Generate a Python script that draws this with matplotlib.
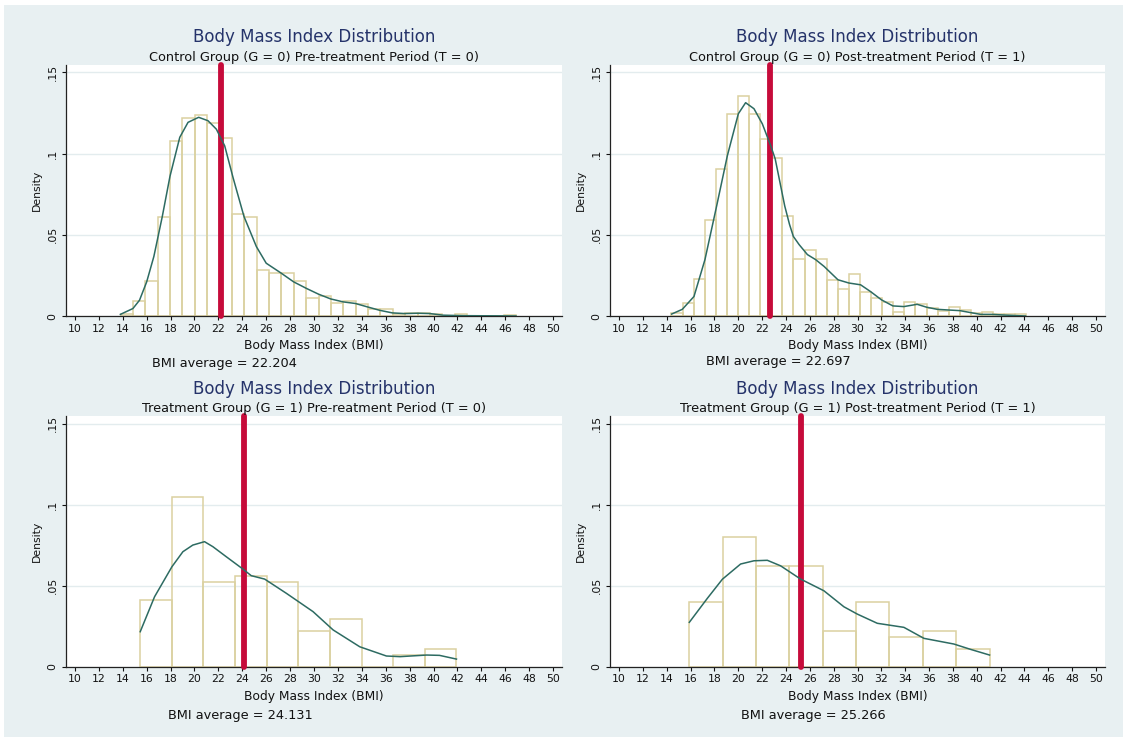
import numpy as np
import matplotlib
matplotlib.use("Agg")
import matplotlib.pyplot as plt
from matplotlib.patches import Rectangle


# ---- data ----

titles = ["Body Mass Index Distribution"] * 4
subtitles = [
    "Control Group (G = 0) Pre-treatment Period (T = 0)",
    "Control Group (G = 0) Post-treatment Period (T = 1)",
    "Treatment Group (G = 1) Pre-reatment Period (T = 0)",
    "Treatment Group (G = 1) Post-treatment Period (T = 1)",
]
bmi_means = [22.204, 22.697, 24.131, 25.266]

# histogram bins (start, width, density per bin)
p1_bin_start, p1_bin_width = 13.82, 1.035
p1_heights = [0.0015, 0.0093, 0.0215, 0.061, 0.1078, 0.1217, 0.1239, 0.1188,
              0.1093, 0.063, 0.061, 0.0283, 0.0263, 0.0263, 0.0215, 0.0108,
              0.0122, 0.0077, 0.0093, 0.0072, 0.0046, 0.0042, 0.0015, 0.0021,
              0.0021, 0.001, 0.0, 0.001, 0.0, 0.0, 0.0, 0.0005]

p2_bin_start, p2_bin_width = 14.40, 0.93
p2_heights = [0.0017, 0.0079, 0.0227, 0.0593, 0.0905, 0.1245, 0.1353, 0.1245,
              0.109, 0.0975, 0.0615, 0.0351, 0.0409, 0.0351, 0.0223, 0.0167,
              0.026, 0.0147, 0.011, 0.0089, 0.0023, 0.0089, 0.0072, 0.0048,
              0.0031, 0.0058, 0.0037, 0.0017, 0.0023, 0.001, 0.001, 0.001]

p3_bin_start, p3_bin_width = 15.46, 2.646
p3_heights = [0.0412, 0.1046, 0.0521, 0.056, 0.0521, 0.0222, 0.0296, 0.0,
              0.0074, 0.0109]

p4_bin_start, p4_bin_width = 15.9, 2.797
p4_heights = [0.0399, 0.08, 0.062, 0.062, 0.022, 0.0399, 0.0181, 0.0218, 0.0109]

# kernel density curves (x, density)
p1_kde_x = [13.8, 14.85, 15.4, 16.0, 16.6, 17.3, 17.95, 18.77, 19.46, 20.35,
            21.13, 21.83, 22.53, 23.23, 24.14, 25.18, 26.0, 27.27, 28.3, 29.36,
            30.39, 31.4, 32.43, 33.47, 34.47, 35.5, 36.56, 37.6, 38.7, 39.7,
            40.8, 42.5, 45.3, 46.9]
p1_kde_y = [0.001, 0.0046, 0.0097, 0.021, 0.0366, 0.061, 0.086, 0.110, 0.1192,
            0.1223, 0.1202, 0.115, 0.1047, 0.0851, 0.0613, 0.0427, 0.0325,
            0.0263, 0.021, 0.017, 0.0134, 0.0105, 0.0087, 0.0077, 0.0056,
            0.0035, 0.0019, 0.0015, 0.0017, 0.0015, 0.0005, 0.0002, 0.0001, 0.0]

p2_kde_x = [14.42, 15.31, 16.29, 17.21, 18.19, 19.09, 20.01, 20.62, 21.32,
            22.02, 22.72, 23.1, 23.5, 23.9, 24.3, 24.62, 25.1, 25.8, 26.49,
            27.2, 28.36, 29.28, 30.26, 31.1, 32.02, 32.97, 33.89, 35.0, 35.8,
            36.69, 37.61, 38.58, 39.48, 40.32, 41.3, 42.27, 44.09]
p2_kde_y = [0.0012, 0.0041, 0.012, 0.0347, 0.0677, 0.0987, 0.1245, 0.1313,
            0.1276, 0.1183, 0.1049, 0.0967, 0.0822, 0.0677, 0.0564, 0.049,
            0.044, 0.0378, 0.0347, 0.0305, 0.0223, 0.0203, 0.0192, 0.015,
            0.0099, 0.0062, 0.0058, 0.0072, 0.0054, 0.0041, 0.0037, 0.0033,
            0.0021, 0.001, 0.001, 0.0006, 0.0]

p3_kde_x = [15.46, 16.66, 18.11, 19.03, 19.86, 20.84, 21.54, 22.66, 24.05,
            24.75, 25.87, 27.69, 29.92, 31.6, 33.83, 36.06, 37.2, 39.43, 40.5,
            41.92]
p3_kde_y = [0.0216, 0.0432, 0.0617, 0.071, 0.0751, 0.0772, 0.0741, 0.0679,
            0.0603, 0.0562, 0.0541, 0.0453, 0.034, 0.0227, 0.0123, 0.0066,
            0.0062, 0.0072, 0.007, 0.0047]

p4_kde_x = [15.9, 17.41, 18.67, 20.2, 21.32, 22.44, 23.55, 25.23, 26.07, 27.18,
            28.86, 29.98, 31.66, 33.89, 35.57, 38.08, 39.48, 41.07]
p4_kde_y = [0.0274, 0.0422, 0.054, 0.0634, 0.0654, 0.0657, 0.0623, 0.0541,
            0.051, 0.0469, 0.037, 0.0325, 0.0268, 0.0243, 0.0175, 0.014,
            0.0107, 0.0072]

x_ticks = list(range(10, 52, 2))
y_ticks = [0, 0.05, 0.1, 0.15]
y_tick_labels = ["0", ".05", ".1", ".15"]


# ---- styling ----
W, H = 1127, 741
BG = "#e8f0f2"
BAR_COLOR = "#dbd1a0"
KDE_COLOR = "#2d6b62"
MEAN_COLOR = "#c60b3a"
GRID_COLOR = "#e3ecee"
TITLE_COLOR = "#25336a"


def axesAt(fig, left, right, top, bottom):
    # pixel box -> figure fraction
    return fig.add_axes([left / W, 1 - bottom / H, (right - left) / W, (bottom - top) / H])


def figText(fig, x, y, s, **kw):
    fig.text(x / W, 1 - y / H, s, ha="center", va="center", **kw)


def drawPanel(ax, bin_start, bin_width, heights, kde_x, kde_y, mean, ytop):
    edges = bin_start + bin_width * np.arange(len(heights))
    ax.bar(edges, heights, width=bin_width, align="edge", fill=False,
           edgecolor=BAR_COLOR, linewidth=1.1, zorder=2)
    ax.axvline(mean, color=MEAN_COLOR, linewidth=4.2, solid_capstyle="round",
               clip_on=False, zorder=3)
    ax.plot(kde_x, kde_y, color=KDE_COLOR, linewidth=1.1, zorder=4)

    ax.set_xlim(9.25, 50.75)
    ax.set_ylim(0, ytop)
    ax.set_xticks(x_ticks)
    ax.set_yticks(y_ticks)
    ax.set_yticklabels(y_tick_labels)
    for lab in ax.get_yticklabels():
        lab.set_rotation(90)
        lab.set_va("center")

    ax.grid(axis="y", color=GRID_COLOR, linewidth=1.0, zorder=0)
    ax.grid(axis="x", visible=False)
    ax.set_axisbelow(True)
    for side in ["top", "right"]:
        ax.spines[side].set_visible(False)
    for side in ["left", "bottom"]:
        ax.spines[side].set_color("#222222")
        ax.spines[side].set_linewidth(0.9)
    ax.tick_params(axis="both", direction="out", length=3.2, width=0.8,
                   color="#111111", labelsize=7.8, labelcolor="#111111")
    ax.tick_params(axis="x", pad=2.3)
    ax.tick_params(axis="y", pad=3.0)


def main():
    fig = plt.figure(figsize=(W / 100, H / 100), dpi=100)
    fig.patch.set_facecolor("white")
    fig.add_artist(Rectangle((4 / W, 1 - 737 / H), 1119 / W, 732 / H,
                             transform=fig.transFigure, facecolor=BG,
                             edgecolor="none", zorder=0))

    # pixel boxes of the four plot regions
    boxes = [(66, 562, 65, 316), (610, 1105, 65, 316),
             (66, 562, 416, 666.7), (610, 1105, 416, 666.7)]
    bins = [(p1_bin_start, p1_bin_width, p1_heights),
            (p2_bin_start, p2_bin_width, p2_heights),
            (p3_bin_start, p3_bin_width, p3_heights),
            (p4_bin_start, p4_bin_width, p4_heights)]
    kdes = [(p1_kde_x, p1_kde_y), (p2_kde_x, p2_kde_y),
            (p3_kde_x, p3_kde_y), (p4_kde_x, p4_kde_y)]
    ytops = [0.1545, 0.1545, 0.1548, 0.1548]
    # centre of the "BMI average" note, in pixels
    note_pos = [(224, 363), (778, 362), (240, 715), (813, 715)]

    for i in range(4):
        left, right, top, bottom = boxes[i]
        ax = axesAt(fig, left, right, top, bottom)
        start, width, heights = bins[i]
        drawPanel(ax, start, width, heights, kdes[i][0], kdes[i][1],
                  bmi_means[i], ytops[i])

        cx = (left + right) / 2
        figText(fig, cx, top - 27.5, titles[i], fontsize=12, color=TITLE_COLOR)
        figText(fig, cx, top - 7.8, subtitles[i], fontsize=9.3, color="#111111")
        figText(fig, cx, bottom + 29.5, "Body Mass Index (BMI)", fontsize=8.8,
                color="#111111")
        figText(fig, left - 29, (top + bottom) / 2, "Density", fontsize=7.8,
                rotation=90, color="#111111")
        nx, ny = note_pos[i]
        figText(fig, nx, ny, "BMI average = %.3f" % bmi_means[i], fontsize=9.3,
                color="#111111")

    fig.savefig("out.png", dpi=100)


if __name__ == "__main__":
    main()
